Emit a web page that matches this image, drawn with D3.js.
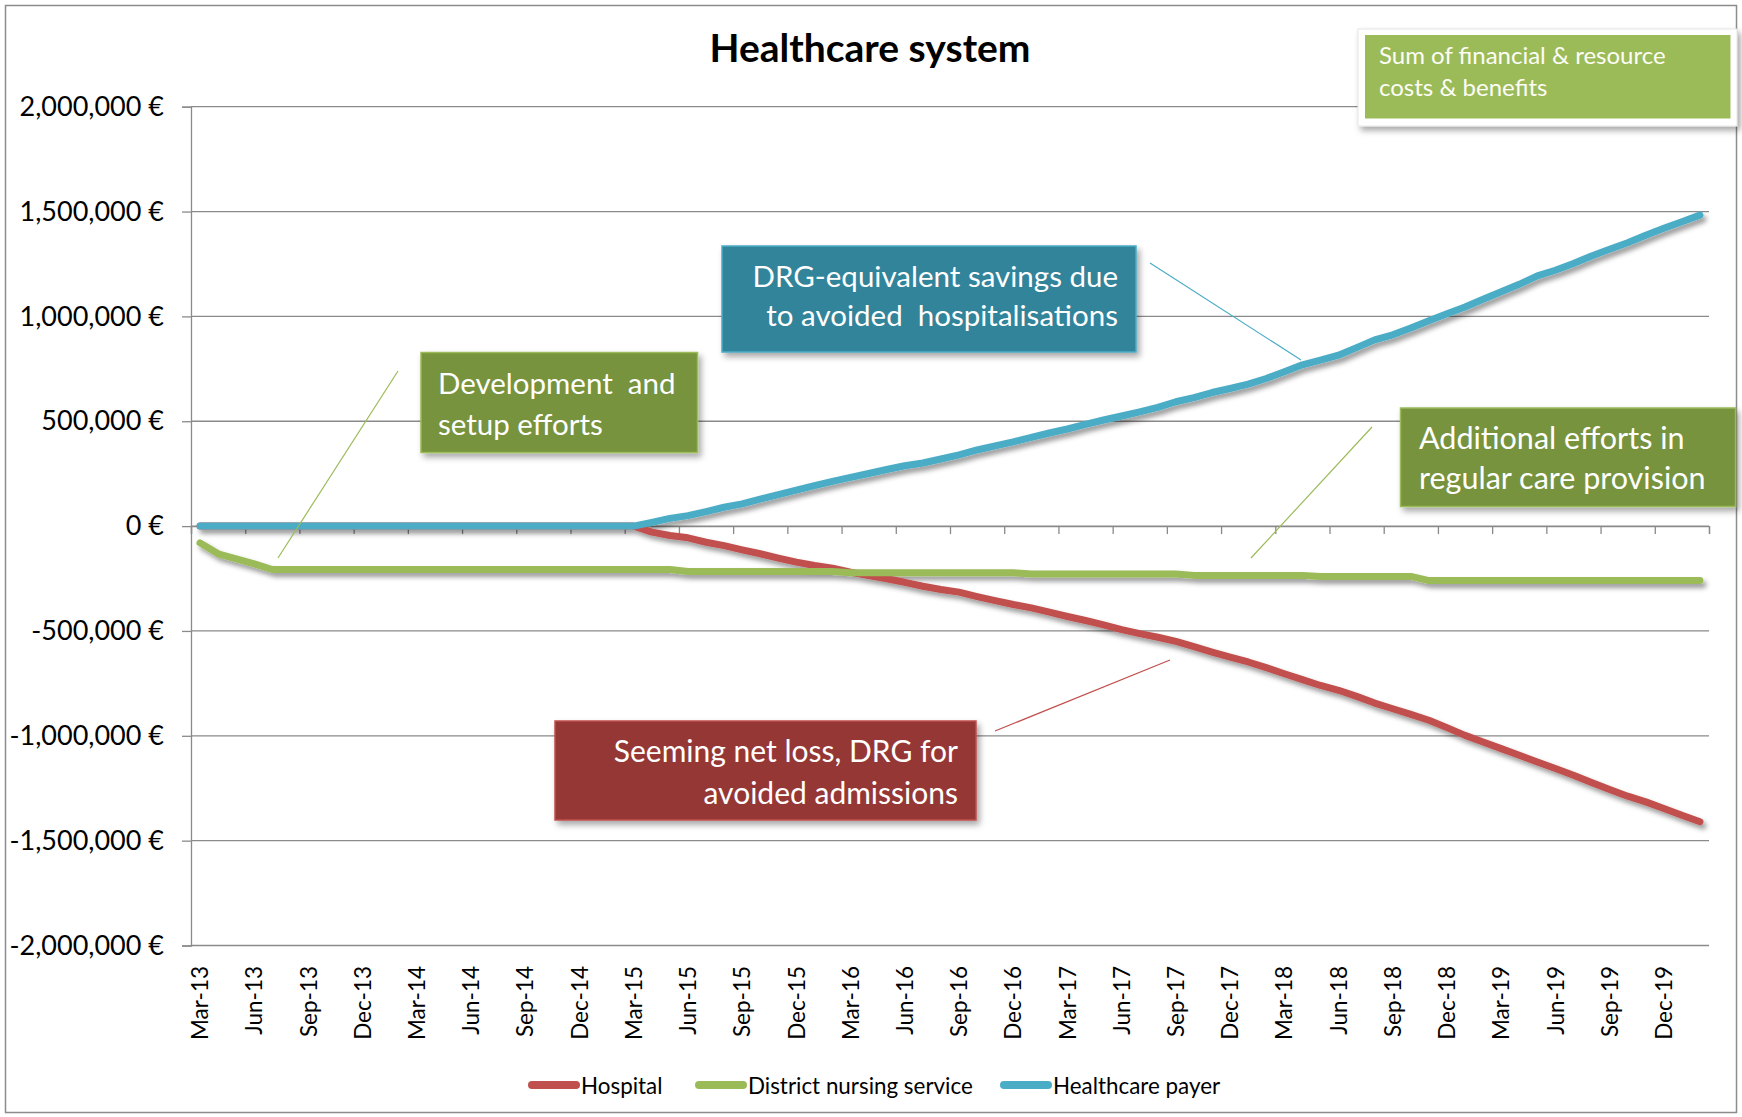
<!DOCTYPE html>
<html>
<head>
<meta charset="utf-8">
<script src="https://cdn.jsdelivr.net/npm/d3@7"></script>
<style>
  html, body { margin: 0; padding: 0; background: #fff; }
  svg { display: block; }
  text { font-family: Lato, "Open Sans", sans-serif; }
</style>
</head>
<body>
<svg id="chart" width="1742" height="1117"></svg>
<script>
// ---------------- DATA ----------------
const months = [
  "Mar-13","Apr-13","May-13","Jun-13","Jul-13","Aug-13","Sep-13","Oct-13","Nov-13","Dec-13",
  "Jan-14","Feb-14","Mar-14","Apr-14","May-14","Jun-14","Jul-14","Aug-14","Sep-14","Oct-14","Nov-14","Dec-14",
  "Jan-15","Feb-15","Mar-15","Apr-15","May-15","Jun-15","Jul-15","Aug-15","Sep-15","Oct-15","Nov-15","Dec-15",
  "Jan-16","Feb-16","Mar-16","Apr-16","May-16","Jun-16","Jul-16","Aug-16","Sep-16","Oct-16","Nov-16","Dec-16",
  "Jan-17","Feb-17","Mar-17","Apr-17","May-17","Jun-17","Jul-17","Aug-17","Sep-17","Oct-17","Nov-17","Dec-17",
  "Jan-18","Feb-18","Mar-18","Apr-18","May-18","Jun-18","Jul-18","Aug-18","Sep-18","Oct-18","Nov-18","Dec-18",
  "Jan-19","Feb-19","Mar-19","Apr-19","May-19","Jun-19","Jul-19","Aug-19","Sep-19","Oct-19","Nov-19","Dec-19",
  "Jan-20","Feb-20"
];

const tickLabels = [
  "Mar-13","Jun-13","Sep-13","Dec-13","Mar-14","Jun-14","Sep-14","Dec-14",
  "Mar-15","Jun-15","Sep-15","Dec-15","Mar-16","Jun-16","Sep-16","Dec-16",
  "Mar-17","Jun-17","Sep-17","Dec-17","Mar-18","Jun-18","Sep-18","Dec-18",
  "Mar-19","Jun-19","Sep-19","Dec-19"
];

const yTickValues = [-2000000, -1500000, -1000000, -500000, 0, 500000, 1000000, 1500000, 2000000];

const hospital = [
  0,0,0,0,0,0,0,0,0,0,0,0,0,0,0,0,0,0,0,0,0,0,0,0,
  0,-29000,-45000,-56000,-77000,-93000,-113000,-132000,-153000,-172000,-188000,-201000,
  -220000,-236000,-251000,-268000,-287000,-302000,-315000,-336000,-355000,-374000,-390000,-410000,
  -431000,-450000,-471000,-494000,-513000,-530000,-550000,-575000,-601000,-625000,-648000,-675000,
  -704000,-732000,-760000,-783000,-812000,-844000,-871000,-898000,-926000,-961000,-998000,-1030000,
  -1061000,-1093000,-1125000,-1156000,-1188000,-1223000,-1256000,-1288000,-1315000,-1347000,-1379000,-1410000
];

const districtNursing = [
  -80000,-132000,-156000,-180000,-207000,-207000,-207000,-207000,-207000,-207000,-207000,-207000,
  -207000,-207000,-207000,-207000,-207000,-207000,-207000,-207000,-207000,-207000,-207000,-207000,
  -207000,-207000,-207000,-216000,-216000,-216000,-216000,-216000,-216000,-216000,-216000,-216000,
  -222000,-222000,-222000,-222000,-222000,-222000,-222000,-222000,-222000,-222000,-228000,-228000,
  -228000,-228000,-228000,-228000,-228000,-228000,-228000,-235000,-235000,-235000,-235000,-235000,
  -235000,-235000,-240000,-240000,-240000,-240000,-240000,-240000,-260000,-260000,-260000,-260000,
  -260000,-260000,-260000,-260000,-260000,-260000,-260000,-260000,-260000,-260000,-260000,-260000
];

const healthcarePayer = [
  0,0,0,0,0,0,0,0,0,0,0,0,0,0,0,0,0,0,0,0,0,0,0,0,
  0,18000,37000,50000,69000,90000,106000,129000,150000,172000,193000,213000,
  232000,251000,270000,288000,301000,320000,340000,363000,383000,402000,423000,444000,
  463000,485000,506000,525000,545000,566000,593000,613000,637000,656000,677000,704000,
  736000,769000,791000,815000,851000,888000,912000,945000,979000,1013000,1045000,1082000,
  1117000,1153000,1193000,1220000,1252000,1288000,1320000,1351000,1387000,1420000,1451000,1483000
];

const seriesNames = ["Hospital", "District nursing service", "Healthcare payer"];
const seriesColors = ["#C0504D", "#9BBB59", "#4BACC6"];

// ---------------- LAYOUT ----------------
const W = 1742, H = 1117;
const plot = { left: 191, right: 1709, top: 106.7, bottom: 945.5 };

const svg = d3.select("#chart");

const defs = svg.append("defs");
const f1 = defs.append("filter").attr("id", "lineShadow")
  .attr("filterUnits", "userSpaceOnUse").attr("x", 0).attr("y", 0).attr("width", W).attr("height", H);
f1.append("feDropShadow").attr("dx", 3).attr("dy", 4).attr("stdDeviation", 2.5)
  .attr("flood-color", "#000").attr("flood-opacity", 0.4);
const f2 = defs.append("filter").attr("id", "boxShadow")
  .attr("filterUnits", "userSpaceOnUse").attr("x", 0).attr("y", 0).attr("width", W).attr("height", H);
f2.append("feDropShadow").attr("dx", 3).attr("dy", 4).attr("stdDeviation", 3)
  .attr("flood-color", "#000").attr("flood-opacity", 0.35);

// Outer chart border
svg.append("rect").attr("x", 5.5).attr("y", 5.5).attr("width", W - 11).attr("height", H - 10)
  .attr("fill", "#fff").attr("stroke", "#8c8c8c").attr("stroke-width", 1.5);

// Scales
const y = d3.scaleLinear().domain([-2000000, 2000000]).range([plot.bottom, plot.top]);
const xPt = d3.scalePoint().domain(months).range([plot.left, plot.right]).padding(0.5);
const xIdx = d3.scaleLinear().domain([0, months.length]).range([plot.left, plot.right]);

// Gridlines
svg.append("g").selectAll("line").data(yTickValues).join("line")
  .attr("x1", plot.left).attr("x2", plot.right)
  .attr("y1", d => y(d)).attr("y2", d => y(d))
  .attr("stroke", "#8a8a8a").attr("stroke-width", 1.3);

// Y axis
const locale = d3.formatLocale({ decimal: ".", thousands: ",", grouping: [3], currency: ["", ""], minus: "-" });
const fmt = locale.format(",");
const yAxis = svg.append("g").attr("transform", `translate(${plot.left},0)`)
  .call(d3.axisLeft(y).tickValues(yTickValues).tickSize(9).tickPadding(18)
    .tickFormat(d => fmt(d) + " €"));
yAxis.select(".domain").attr("stroke", "#8a8a8a").attr("stroke-width", 1.3);
yAxis.selectAll(".tick line").attr("stroke", "#8a8a8a").attr("stroke-width", 1.3);
yAxis.selectAll(".tick text").attr("font-family", "Lato, sans-serif").attr("font-size", 27)
  .attr("fill", "#000");

// X axis at zero, ticks at category boundaries every 3 months
const xAxis = svg.append("g").attr("transform", `translate(0,${y(0)})`)
  .call(d3.axisBottom(xIdx).tickValues(d3.range(0, months.length + 1, 3)).tickSize(8).tickFormat(""));
xAxis.select(".domain").attr("stroke", "#8a8a8a").attr("stroke-width", 1.3);
xAxis.selectAll(".tick line").attr("stroke", "#8a8a8a").attr("stroke-width", 1.3);

// X tick labels (rotated, at bottom)
svg.append("g").selectAll("text").data(tickLabels).join("text")
  .attr("transform", d => `translate(${xPt(d)},966) rotate(-90)`)
  .attr("text-anchor", "end").attr("dy", "0.36em")
  .attr("font-family", "'DejaVu Sans', Verdana, sans-serif").attr("font-size", 22.5)
  .attr("fill", "#000").text(d => d);

// Lines
const line = d3.line().x((d, i) => xPt(months[i])).y(d => y(d));
const allSeries = [hospital, districtNursing, healthcarePayer];
svg.append("g").attr("filter", "url(#lineShadow)")
  .selectAll("path").data(allSeries).join("path")
  .attr("d", d => line(d)).attr("fill", "none")
  .attr("stroke", (d, i) => seriesColors[i]).attr("stroke-width", 7)
  .attr("stroke-linejoin", "round").attr("stroke-linecap", "round");

// Title
svg.append("text").attr("x", 870).attr("y", 62).attr("text-anchor", "middle")
  .attr("font-size", 39).attr("font-weight", "bold").attr("fill", "#000")
  .text("Healthcare system");

// Annotations
const annotations = [
  { lines: ["DRG-equivalent savings due", "to avoided  hospitalisations"],
    box: [722, 246, 414, 106], fill: "#31849B", stroke: "#4BACC6", anchor: "end", tx: 1118, ty: [277, 316], size: 29.5,
    call: [1150, 263, 1301, 360], callColor: "#4BACC6" },
  { lines: ["Development  and", "setup efforts"],
    box: [421, 352.5, 276.5, 100], fill: "#77933C", stroke: "#9BBB59", anchor: "start", tx: 438, ty: [384, 425], size: 29.5,
    call: [398, 371, 278, 558], callColor: "#9BBB59" },
  { lines: ["Additional efforts in", "regular care provision"],
    box: [1400.5, 408, 335, 98.5], fill: "#77933C", stroke: "#9BBB59", anchor: "start", tx: 1419, ty: [438.5, 478.5], size: 30.5,
    call: [1372, 427, 1251, 558], callColor: "#9BBB59" },
  { lines: ["Seeming net loss, DRG for", "avoided admissions"],
    box: [555, 721, 421, 99], fill: "#953735", stroke: "#C0504D", anchor: "end", tx: 958, ty: [751.5, 793], size: 30,
    call: [1170, 660, 995, 731], callColor: "#C0504D" }
];

const annG = svg.append("g");
annotations.forEach(a => {
  annG.append("line").attr("x1", a.call[0]).attr("y1", a.call[1]).attr("x2", a.call[2]).attr("y2", a.call[3])
    .attr("stroke", a.callColor).attr("stroke-width", 1.2);
  annG.append("rect").attr("x", a.box[0]).attr("y", a.box[1]).attr("width", a.box[2]).attr("height", a.box[3])
    .attr("fill", a.fill).attr("stroke", a.stroke).attr("stroke-width", 1.5).attr("filter", "url(#boxShadow)");
  a.lines.forEach((t, k) => {
    annG.append("text").attr("x", a.tx).attr("y", a.ty[k]).attr("dy", "0.35em")
      .attr("text-anchor", a.anchor).attr("font-size", a.size).attr("fill", "#fff")
      .style("white-space", "pre").text(t);
  });
});

// "Sum of financial & resource costs & benefits" box
const sumG = svg.append("g");
sumG.append("rect").attr("x", 1358).attr("y", 29).attr("width", 379).attr("height", 97)
  .attr("fill", "#fff").attr("stroke", "#e6e6e6").attr("stroke-width", 1).attr("filter", "url(#boxShadow)");
sumG.append("rect").attr("x", 1365).attr("y", 35).attr("width", 365.5).attr("height", 83.5)
  .attr("fill", "#9BBB59");
["Sum of financial & resource", "costs & benefits"].forEach((t, k) => {
  sumG.append("text").attr("x", 1379).attr("y", [55.5, 88][k]).attr("dy", "0.35em")
    .attr("font-size", 24).attr("fill", "#fdfdf6").text(t);
});

// Legend
const legendX = [529, 696, 1001];
const leg = svg.append("g").selectAll("g").data(seriesNames).join("g")
  .attr("transform", (d, i) => `translate(${legendX[i]},1085)`);
leg.append("line").attr("x1", 3).attr("x2", 47).attr("y1", 0).attr("y2", 0)
  .attr("stroke", (d, i) => seriesColors[i]).attr("stroke-width", 8).attr("stroke-linecap", "round");
leg.append("text").attr("x", 52).attr("y", 1).attr("dy", "0.35em")
  .attr("font-size", 22.4).attr("fill", "#000").text(d => d);
</script>
</body>
</html>
